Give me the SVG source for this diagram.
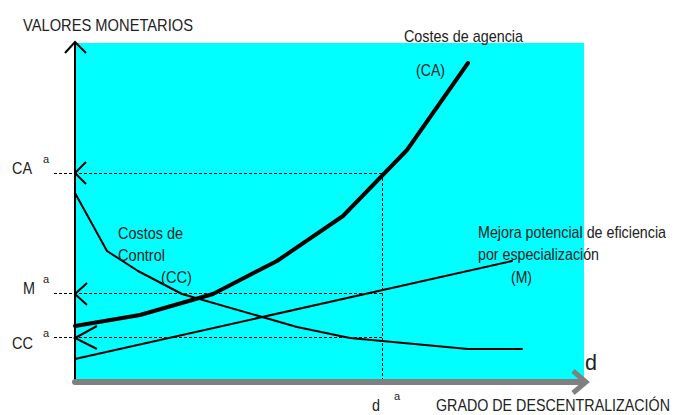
<svg xmlns="http://www.w3.org/2000/svg" width="677" height="415" viewBox="0 0 677 415">
<style>
text{font-family:"Liberation Sans",Arial,sans-serif;font-size:17px;fill:#222}
.sup{font-size:11px}
.dash{stroke:#000;stroke-width:1;stroke-dasharray:3,2;fill:none}
.tick{stroke:#000;stroke-width:2;fill:none}
.curve{stroke:#000;fill:none;stroke-linejoin:round;stroke-linecap:round}
</style>
<rect x="0" y="0" width="677" height="415" fill="#fff"/>
<rect id="plot" x="75" y="43" width="509" height="338" fill="#00ffff"/>
<g id="guides">
<path class="dash" d="M54,173.5H383M54,293.5H383M54,337.5H383M382.5,173V381"/>
</g>
<g id="axes">
<path d="M75,42V381" stroke="#000" stroke-width="2"/>
<path class="tick" d="M65,53L75,42L86,53"/>
<path d="M75,382H583" stroke="#808080" stroke-width="6" stroke-linecap="round"/>
<path d="M573,371L586,382L573,393" stroke="#808080" stroke-width="5" fill="none"/>
<path class="tick" d="M86,162L75,173L86,184M87,283L75,294L87,305M97,326L75,338L97,349"/>
</g>
<g id="connectors">
<polyline id="CA" class="curve" stroke-width="4" points="75,326 140,315 213,294 277,261 343,216 407,150 468,63"/>
<polyline id="CC" class="curve" stroke-width="2" points="75,193 107,251 138,271 182,294 297,327 350,338 468,349 522,349"/>
<polyline id="M" class="curve" stroke-width="2" points="75,359 512,261"/>
</g>
<g id="labels">
<text x="23" y="31" textLength="170" lengthAdjust="spacingAndGlyphs">VALORES MONETARIOS</text>
<text x="12" y="174" textLength="20" lengthAdjust="spacingAndGlyphs">CA</text><text class="sup" x="43" y="163">a</text>
<text x="23" y="294" textLength="12" lengthAdjust="spacingAndGlyphs">M</text><text class="sup" x="43" y="283">a</text>
<text x="12" y="349" textLength="21" lengthAdjust="spacingAndGlyphs">CC</text><text class="sup" x="43" y="337">a</text>
<text x="404" y="42" textLength="119" lengthAdjust="spacingAndGlyphs">Costes de agencia</text>
<text x="416" y="76" textLength="29" lengthAdjust="spacingAndGlyphs">(CA)</text>
<text x="118" y="239" textLength="65" lengthAdjust="spacingAndGlyphs">Costos de</text>
<text x="118" y="261" textLength="47" lengthAdjust="spacingAndGlyphs">Control</text>
<text x="161" y="283" textLength="31" lengthAdjust="spacingAndGlyphs">(CC)</text>
<text x="478" y="238" textLength="188" lengthAdjust="spacingAndGlyphs">Mejora potencial de eficiencia</text>
<text x="478" y="260" textLength="121" lengthAdjust="spacingAndGlyphs">por especialización</text>
<text x="511" y="283" textLength="21" lengthAdjust="spacingAndGlyphs">(M)</text>
<text x="585" y="370" style="font-size:22px" textLength="12" lengthAdjust="spacingAndGlyphs">d</text>
<text x="372" y="411" textLength="8" lengthAdjust="spacingAndGlyphs">d</text><text class="sup" x="394" y="400">a</text>
<text x="436" y="411" textLength="234" lengthAdjust="spacingAndGlyphs">GRADO DE DESCENTRALIZACIÓN</text>
</g>
</svg>
